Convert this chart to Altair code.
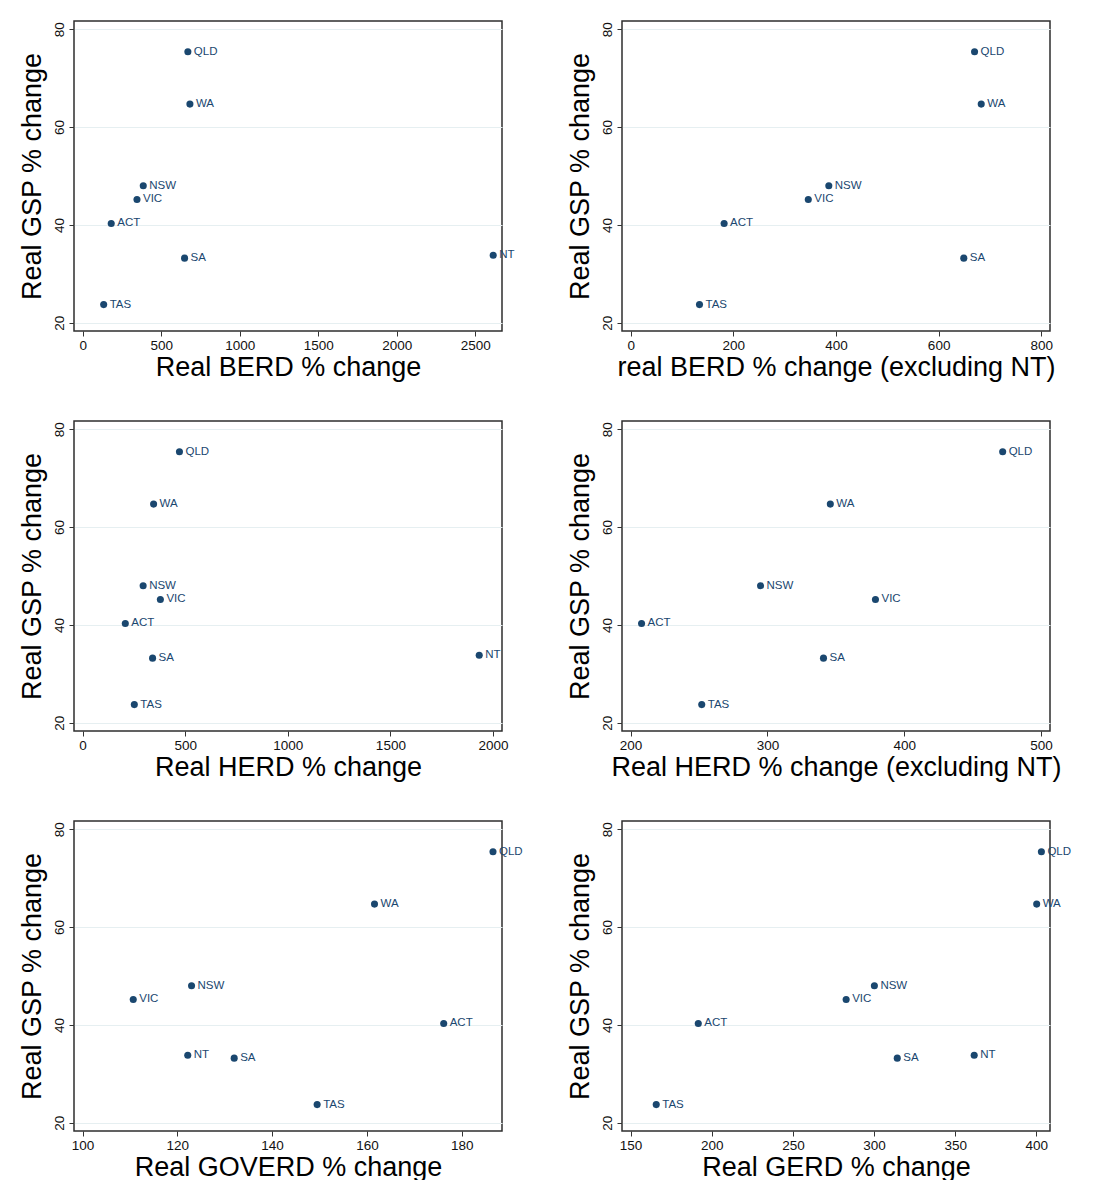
import altair as alt
import pandas as pd

states = ["QLD", "WA", "NSW", "VIC", "ACT", "SA", "NT", "TAS"]
gsp = [75.4, 64.7, 48.0, 45.2, 40.3, 33.2, 33.8, 23.7]
berd = [670, 683, 386, 346, 182, 649, 2614, 134]
herd = [472, 346, 295, 379, 208, 341, 1933, 252]
goverd = [186.6, 161.6, 123.0, 110.7, 176.2, 132.0, 122.2, 149.5]
gerd = [403.1, 400.2, 300.2, 282.8, 191.7, 314.3, 361.7, 165.8]

y_ticks = [20, 40, 60, 80]
y_domain = [18.3, 81.7]

panels = [
    (berd, "Real BERD % change", True, [0, 500, 1000, 1500, 2000, 2500], [-55, 2670]),
    (berd, "real BERD % change (excluding NT)", False, [0, 200, 400, 600, 800], [-17, 817]),
    (herd, "Real HERD % change", True, [0, 500, 1000, 1500, 2000], [-42, 2044]),
    (herd, "Real HERD % change (excluding NT)", False, [200, 300, 400, 500], [193.7, 506.6]),
    (goverd, "Real GOVERD % change", True, [100, 120, 140, 160, 180], [98.2, 188.5]),
    (gerd, "Real GERD % change", True, [150, 200, 250, 300, 350, 400], [144.7, 408.4]),
]

NAVY = "#1a476f"
FONT = "Liberation Sans"


def make_panel(xvals, xtitle, include_nt, xticks, xdomain):
    df = pd.DataFrame({"state": states, "x": xvals, "y": gsp})
    if not include_nt:
        df = df[df["state"] != "NT"]
    x = alt.X(
        "x:Q",
        title=xtitle,
        scale=alt.Scale(domain=xdomain, nice=False, zero=False),
        axis=alt.Axis(
            values=xticks, format="d", grid=False, domain=False, tickSize=5, tickColor="#333333",
            labelFontSize=13.5, labelColor="#111111", labelPadding=2, labelFont=FONT,
            titleFontSize=27, titleFont=FONT, titleFontWeight="normal", titleColor="#000000",
            titlePadding=3, labelFlush=False,
        ),
    )
    y = alt.Y(
        "y:Q",
        title="Real GSP % change",
        scale=alt.Scale(domain=y_domain, nice=False, zero=False),
        axis=alt.Axis(
            values=y_ticks, format="d", grid=True, gridColor="#e6eff1", gridWidth=1, domain=False,
            tickSize=5, tickColor="#333333", labelAngle=270, labelAlign="center",
            labelBaseline="bottom", labelFontSize=13.5, labelColor="#111111", labelPadding=3,
            labelFont=FONT, titleFontSize=27, titleFont=FONT, titleFontWeight="normal",
            titleColor="#000000", titlePadding=6, labelFlush=False,
        ),
    )
    base = alt.Chart(df)
    pts = base.mark_circle(size=50, color=NAVY, opacity=1).encode(x=x, y=y)
    lbl = base.mark_text(align="left", baseline="middle", dx=6, fontSize=11.5, color=NAVY, font=FONT).encode(
        x="x:Q", y="y:Q", text="state:N"
    )
    return alt.layer(pts, lbl).properties(width=428, height=310)


charts = [make_panel(*p) for p in panels]
chart = alt.concat(
    *charts, columns=2, spacing={"row": 90, "column": 120}, bounds="flush"
).properties(
    background="white", padding={"left": 9, "top": 12, "right": 5, "bottom": 5}
).configure_view(
    stroke="#2e2e2e", strokeWidth=1.5
)

chart.save("out.html", embed_options={"renderer": "svg", "actions": False})
